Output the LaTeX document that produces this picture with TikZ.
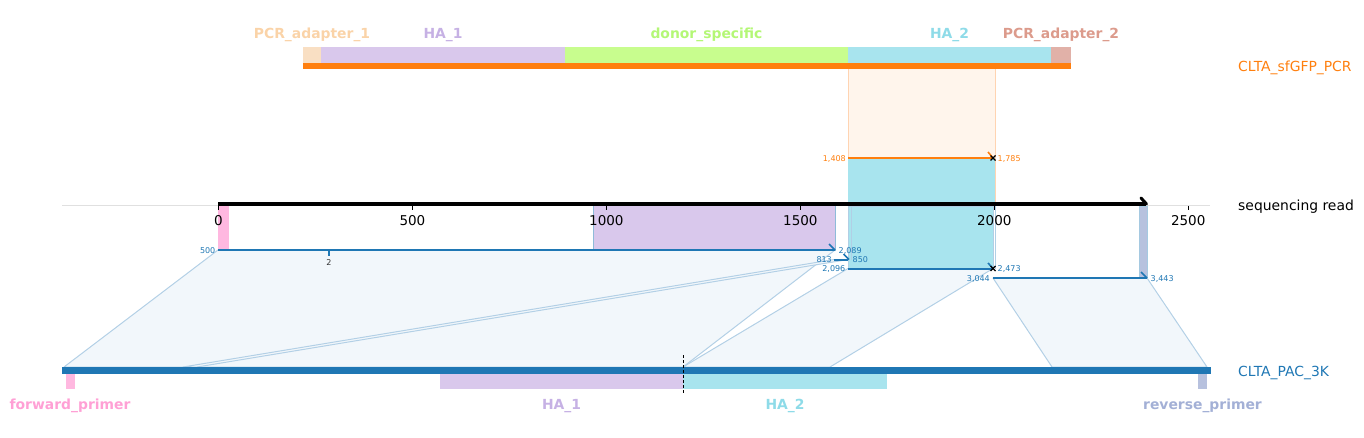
\documentclass[tikz,border=0pt]{standalone}
\usepackage{fontspec}
\setmainfont{DejaVu Sans}

\definecolor{tabblue}{HTML}{1F77B4}
\definecolor{taborange}{HTML}{FF7F0E}
\definecolor{adapterone}{HTML}{F9DFC3}
\definecolor{adapteronetext}{HTML}{FAD3A8}
\definecolor{haone}{HTML}{D9C8EC}
\definecolor{haonetext}{HTML}{C6B1E4}
\definecolor{donor}{HTML}{C8FD8E}
\definecolor{donortext}{HTML}{B4F776}
\definecolor{hatwo}{HTML}{A8E4EE}
\definecolor{hatwotext}{HTML}{8EDBE8}
\definecolor{adaptertwo}{HTML}{E1B1A8}
\definecolor{adaptertwotext}{HTML}{DC9B8C}
\definecolor{fwdprimer}{HTML}{FFB8E0}
\definecolor{fwdprimertext}{HTML}{FFA0D5}
\definecolor{revprimer}{HTML}{B7C1DE}
\definecolor{revprimertext}{HTML}{A3B0D6}
\definecolor{alnfill}{HTML}{F2F7FB}
\definecolor{alnedge}{HTML}{B3D0E6}
\definecolor{peachfill}{HTML}{FFF5EC}
\definecolor{peachedge}{HTML}{FFD4B2}

\tikzset{
  featlabel/.style={font=\fontsize{13.9}{16}\selectfont\bfseries, inner sep=0pt, yshift=-2pt},
  tracklabel/.style={font=\fontsize{13.9}{16}\selectfont, inner sep=0pt, anchor=west, yshift=-2pt},
  ticklabel/.style={font=\fontsize{13.5}{16}\selectfont, inner sep=0pt, yshift=-1pt},
  poslabel/.style={font=\fontsize{8}{9}\selectfont, inner sep=0pt, text=tabblue, yshift=-0.5pt},
  aln/.style={fill=alnfill, draw=alnedge, line width=1pt, line join=round},
  hit/.style={draw=tabblue, line width=2pt},
  xmark/.style={draw=black, line width=1.2pt}
}

\begin{document}
\begin{tikzpicture}[x=1pt,y=-1pt]
\useasboundingbox (0,0) rectangle (1364,437);

% alignments of the read onto CLTA_PAC_3K
\fill[aln] (218,250) -- (835,250) -- (683,367) -- (64,367) -- cycle;
\fill[aln] (834,259.5) -- (848,259.5) -- (197,367) -- (183,367) -- cycle;
\fill[aln] (848,268.5) -- (993,268.5) -- (830,367) -- (683,367) -- cycle;
\fill[aln] (993,278) -- (1147,278) -- (1207,367) -- (1052,367) -- cycle;

% alignment of CLTA_sfGFP_PCR onto the read
\fill[peachfill] (848,68.7) rectangle (995,158);
\draw[peachedge, line width=0.8pt] (848,68.7) -- (848,206) (995,68.7) -- (995,206);

% features seen on the read
\fill[hatwo] (848,158) rectangle (995,206);
\fill[fwdprimer] (218,206) rectangle (229,250);
\filldraw[fill=haone, draw=tabblue!50, line width=0.8pt] (835.5,206) -- (835.5,250) -- (593,250) -- (593,206);
\filldraw[fill=hatwo, draw=tabblue!35, line width=0.8pt] (848,206) rectangle (993,268.5);
\draw[tabblue!35, line width=0.8pt] (851,206) -- (851,259.5) (995,206) -- (995,268.5);
\filldraw[fill=revprimer, draw=tabblue!40, line width=0.8pt] (1139,206) rectangle (1147,278);

% top track
\fill[adapterone] (303,47) rectangle (321,62.7);
\fill[haone] (321,47) rectangle (565,62.7);
\fill[donor] (565,47) rectangle (848,62.7);
\fill[hatwo] (848,47) rectangle (1051,62.7);
\fill[adaptertwo] (1051,47) rectangle (1071,62.7);
\fill[taborange] (303,62.7) rectangle (1071,68.7);
\node[featlabel, text=adapteronetext] (adapterA) at (312,33) {PCR\_adapter\_1};
\node[featlabel, text=haonetext] (haA) at (443,33) {HA\_1};
\node[featlabel, text=donortext] (donorA) at (706.5,33) {donor\_specific};
\node[featlabel, text=hatwotext] (hbA) at (949.5,33) {HA\_2};
\node[featlabel, text=adaptertwotext] (adapterB) at (1061,33) {PCR\_adapter\_2};
\node[tracklabel, text=taborange] (pcrname) at (1238,66) {CLTA\_sfGFP\_PCR};

% read axis
\draw[black!12, line width=0.8pt] (62,205.3) -- (1210,205.3);
\draw[black, line width=4pt] (218,204.3) -- (1146,204.3);
\draw[black, line width=3pt, line cap=round] (1141,198) -- (1146.5,204);
\foreach \v in {0,500,...,2500} {
  \draw[black, line width=0.8pt] ({218.5+0.3879*\v},206) -- ({218.5+0.3879*\v},210);
  \node[ticklabel] (tick\v) at ({218.5+0.3879*\v},220) {\v};
}
\node[tracklabel] (readname) at (1238,205) {sequencing read};

% hits on the read
\draw[taborange, line width=2pt] (848,158) -- (993,158);
\draw[taborange, line width=1.6pt] (988,152) -- (993,158);
\draw[xmark] (990.5,155.5) -- (995.5,160.5) (990.5,160.5) -- (995.5,155.5);
\node[poslabel, text=taborange, anchor=east] (pcrstart) at (846,158) {1,408};
\node[poslabel, text=taborange, anchor=west] (pcrend) at (997.5,158) {1,785};

\draw[hit] (218,250) -- (835,250);
\draw[tabblue, line width=1.6pt] (829,244) -- (835,250);
\draw[tabblue, line width=2pt] (328.5,250) -- (328.5,256);
\node[font=\fontsize{8}{9}\selectfont, inner sep=0pt, text=black!80] (indel) at (329,262.5) {2};
\node[poslabel, anchor=east] (hitAstart) at (215.5,250) {500};
\node[poslabel, anchor=west] (hitAend) at (838.5,250) {2,089};

\draw[hit] (834,259.5) -- (848,259.5);
\draw[tabblue, line width=1.6pt] (843.5,254) -- (849,259.5);
\node[poslabel, anchor=east] (hitBstart) at (832,259.5) {813};
\node[poslabel, anchor=west] (hitBend) at (852.5,259.5) {850};

\draw[hit] (848,268.5) -- (993,268.5);
\draw[tabblue, line width=1.6pt] (988,263) -- (993,268.5);
\draw[xmark] (990.5,266) -- (995.5,271) (990.5,271) -- (995.5,266);
\node[poslabel, anchor=east] (hitCstart) at (845.5,268.5) {2,096};
\node[poslabel, anchor=west] (hitCend) at (997.5,268.5) {2,473};

\draw[hit] (993,278) -- (1147,278);
\draw[tabblue, line width=1.6pt] (1141,272) -- (1147,278);
\node[poslabel, anchor=east] (hitDstart) at (990,278) {3,044};
\node[poslabel, anchor=west] (hitDend) at (1150.5,278) {3,443};

% bottom track
\fill[tabblue] (62,367) rectangle (1211,373.7);
\fill[fwdprimer] (66,373.7) rectangle (75,388.7);
\fill[haone] (440,373.7) rectangle (683,388.7);
\fill[hatwo] (683,373.7) rectangle (887,388.7);
\fill[revprimer] (1198,373.7) rectangle (1207,388.7);
\draw[black, line width=1pt, dash pattern=on 3pt off 2pt] (683,355) -- (683,394);
\node[featlabel, text=fwdprimertext] (fwdname) at (70,404) {forward\_primer};
\node[featlabel, text=haonetext] (haB) at (561.5,404) {HA\_1};
\node[featlabel, text=hatwotext] (hbB) at (785,404) {HA\_2};
\node[featlabel, text=revprimertext] (revname) at (1202.5,404) {reverse\_primer};
\node[tracklabel, text=tabblue] (pacname) at (1238,370.5) {CLTA\_PAC\_3K};
\end{tikzpicture}
\end{document}
